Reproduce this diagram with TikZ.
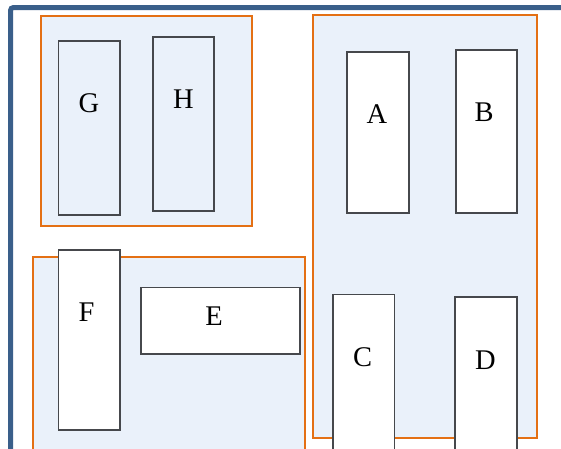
\documentclass[tikz,border=0pt]{standalone}
\usepackage{fontspec}
\setmainfont{Liberation Serif}
\definecolor{frameblue}{RGB}{58,95,138}
\definecolor{grporange}{RGB}{228,112,20}
\definecolor{grpfill}{RGB}{234,241,250}
\definecolor{boxline}{RGB}{70,72,76}
\tikzset{
  groupbox/.style={draw=grporange, line width=2.4pt, fill=grpfill},
  unitbox/.style={draw=boxline, line width=1.6pt, fill=white},
  openbox/.style={draw=boxline, line width=1.6pt},
  lbl/.style={anchor=base, inner sep=0pt, font=\fontsize{28.5}{30}\selectfont}
}
\begin{document}
\begin{tikzpicture}[x=1pt,y=-1pt]
\useasboundingbox (0,0) rectangle (561,448);
\clip (0,0) rectangle (561,448);
\fill[white] (0,0) rectangle (561,448);
% outer frame
\draw[frameblue, line width=5pt, rounded corners=3pt, fill=white] (10.5,7.5) rectangle (620,500);
% groups
\draw[groupbox] (41,16) rectangle (252,226);
\draw[groupbox] (313,15) rectangle (537,438);
\draw[groupbox] (33,257) rectangle (305,470);
% units
\node[openbox, inner sep=0pt, minimum width=61.5pt, minimum height=174pt] (G) at (89.25,128) {};
\node[openbox, inner sep=0pt, minimum width=61.5pt, minimum height=174.3pt] (H) at (183.5,123.85) {};
\node[unitbox, inner sep=0pt, minimum width=62.3pt, minimum height=161.3pt] (A) at (377.85,132.35) {};
\node[unitbox, inner sep=0pt, minimum width=61pt, minimum height=163pt] (B) at (486.2,131.5) {};
\node[unitbox, inner sep=0pt, minimum width=61.7pt, minimum height=180pt] (F) at (89.15,340) {};
\node[unitbox, inner sep=0pt, minimum width=159.3pt, minimum height=66.7pt] (E) at (220.35,320.65) {};
\node[unitbox, inner sep=0pt, minimum width=61.6pt, minimum height=200pt] (C) at (363.5,394.3) {};
\node[unitbox, inner sep=0pt, minimum width=61.7pt, minimum height=200pt] (D) at (485.85,396.7) {};
% labels
\node[lbl] (tG) at (89,112) {G};
\node[lbl] (tH) at (183.5,108) {H};
\node[lbl] (tA) at (377,123) {A};
\node[lbl] (tB) at (484,121) {B};
\node[lbl] (tF) at (86.5,321) {F};
\node[lbl] (tE) at (214,325) {E};
\node[lbl] (tC) at (362.5,366) {C};
\node[lbl] (tD) at (485.5,369) {D};
\end{tikzpicture}
\end{document}
